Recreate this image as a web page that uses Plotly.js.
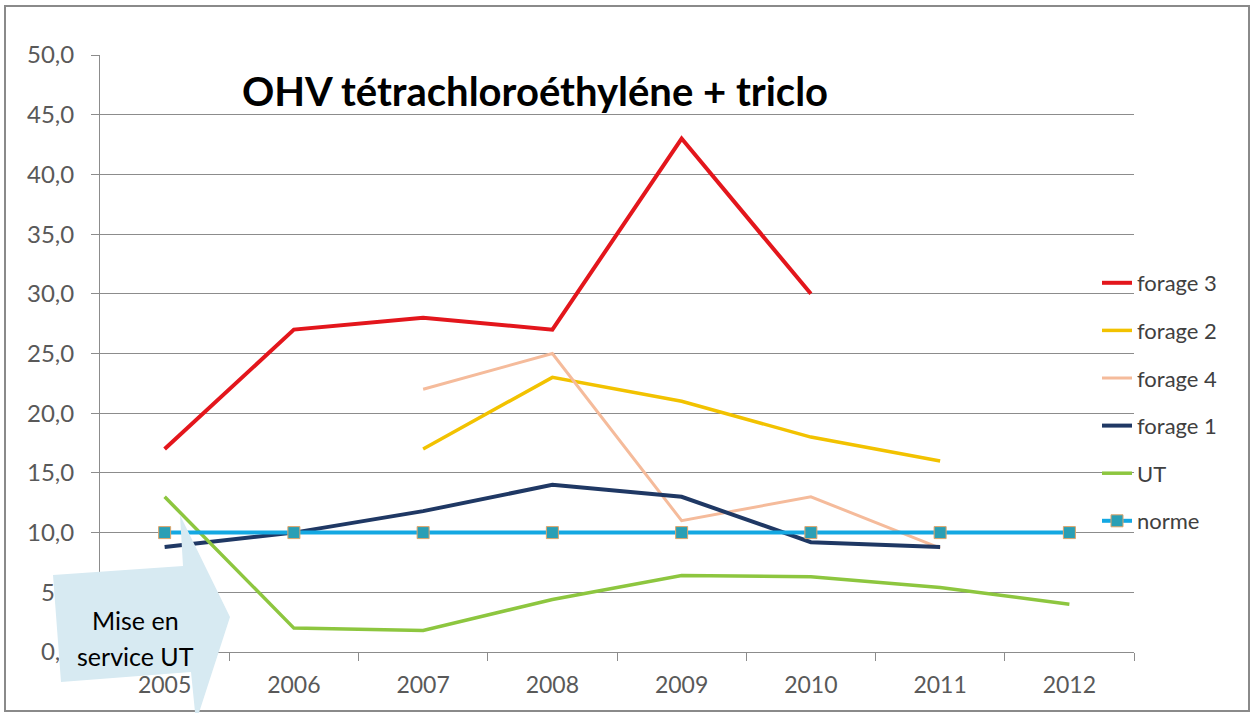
<!DOCTYPE html>
<html>
<head>
<meta charset="utf-8">
<script src="https://cdn.plot.ly/plotly-3.0.1.min.js"></script>
<style>
html,body{margin:0;padding:0;background:#fff;}
#chart{width:1251px;height:713px;}
</style>
</head>
<body>
<div id="chart"></div>
<script>
// ---- data ----
const years = ['2005','2006','2007','2008','2009','2010','2011','2012'];
const forage3 = [17, 27, 28, 27, 43, 30, null, null];
const forage2 = [null, null, 17, 23, 21, 18, 16, null];
const forage4 = [null, null, 22, 25, 11, 13, 8.7, null];
const forage1 = [8.8, 10, 11.8, 14, 13, 9.2, 8.8, null];
const ut      = [13, 2, 1.8, 4.4, 6.4, 6.3, 5.4, 4.0];
const norme   = [10, 10, 10, 10, 10, 10, 10, 10];
const seriesNames = ['forage 3','forage 2','forage 4','forage 1','UT','norme'];
const titleText = 'OHV tétrachloroéthyléne + triclo';
const calloutLines = ['Mise en', 'service UT'];

// ---- layout helpers (pixel -> paper) ----
const L = 100, R = 1134, T = 55, B = 652;
const px = x => (x - L) / (R - L);
const py = y => (B - y) / (B - T);

function line(name, y, color, width, group) {
  return {
    type: 'scatter', mode: 'lines', name: name, x: years, y: y,
    line: {color: color, width: width}, connectgaps: false,
    legendgroup: group, hoverinfo: 'skip'
  };
}

const traces = [
  line(seriesNames[0], forage3, '#e3161c', 4, 'g1'),
  line(seriesNames[1], forage2, '#f2c200', 3.5, 'g2'),
  line(seriesNames[2], forage4, '#f5bb9b', 3, 'g3'),
  line(seriesNames[3], forage1, '#1f3864', 4, 'g4'),
  line(seriesNames[4], ut, '#8dc63f', 3.5, 'g5'),
  {
    type: 'scatter', mode: 'lines+markers', name: seriesNames[5], x: years, y: norme,
    line: {color: '#14a8e2', width: 4},
    marker: {symbol: 'square', size: 12, color: '#2a9fb5', line: {color: '#e0a468', width: 1}},
    legendgroup: 'g6', hoverinfo: 'skip'
  }
];

const gray = '#8c8c8c';
const calloutPath = [
  [53,575],[183,566],[180,515],[230,617],[196,722],[191,672],[61,682]
].map((p,i) => (i===0?'M':'L') + px(p[0]).toFixed(5) + ',' + py(p[1]).toFixed(5)).join(' ') + ' Z';

const layout = {
  width: 1251, height: 713,
  margin: {l: L, r: 1251 - R, t: T, b: 713 - B, pad: 0},
  paper_bgcolor: '#ffffff', plot_bgcolor: '#ffffff',
  separators: ',.',
  showlegend: true,
  font: {family: 'Lato, "Open Sans", sans-serif', color: '#595959'},
  title: {
    text: '<b>' + titleText + '</b>',
    font: {family: 'Lato, "Open Sans", sans-serif', size: 40, color: '#000000'},
    x: 535 / 1251, xanchor: 'center', xref: 'container',
    y: 1 - 92 / 713, yanchor: 'middle', yref: 'container'
  },
  xaxis: {
    type: 'category', range: [-0.5, 7.5], fixedrange: true,
    showgrid: false, zeroline: false,
    showline: true, linecolor: gray, linewidth: 1,
    ticks: 'outside', tickson: 'boundaries', ticklen: 8, tickcolor: gray,
    ticklabelstandoff: 12,
    tickfont: {size: 23, color: '#595959'}
  },
  yaxis: {
    range: [0, 50], dtick: 5, tick0: 0, tickformat: '.1f', fixedrange: true,
    showgrid: true, gridcolor: gray, gridwidth: 1, zeroline: false,
    showline: true, linecolor: gray, linewidth: 1,
    ticks: 'outside', ticklen: 8, tickcolor: gray,
    ticklabelstandoff: 12,
    tickfont: {size: 24, color: '#595959'}
  },
  legend: {
    x: px(1097), xanchor: 'left', y: py(262), yanchor: 'top',
    bgcolor: 'rgba(0,0,0,0)', borderwidth: 0,
    traceorder: 'grouped', tracegroupgap: 16,
    font: {size: 22, color: '#404040'}
  },
  shapes: [
    {type: 'rect', xref: 'paper', yref: 'paper', x0: px(5), x1: px(1249), y0: py(6), y1: py(711),
     line: {color: '#8a8a8a', width: 2}, fillcolor: 'rgba(0,0,0,0)', layer: 'below'},
    {type: 'path', xref: 'paper', yref: 'paper', path: calloutPath,
     fillcolor: '#d7eaf2', line: {width: 0}, layer: 'above'}
  ],
  annotations: [
    {xref: 'paper', yref: 'paper', x: px(135), y: py(620), text: calloutLines[0], showarrow: false,
     xanchor: 'center', yanchor: 'middle', font: {size: 25, color: '#000000'}},
    {xref: 'paper', yref: 'paper', x: px(135), y: py(656), text: calloutLines[1], showarrow: false,
     xanchor: 'center', yanchor: 'middle', font: {size: 25, color: '#000000'}}
  ]
};

Plotly.newPlot('chart', traces, layout, {staticPlot: true, displayModeBar: false});
</script>
</body>
</html>
